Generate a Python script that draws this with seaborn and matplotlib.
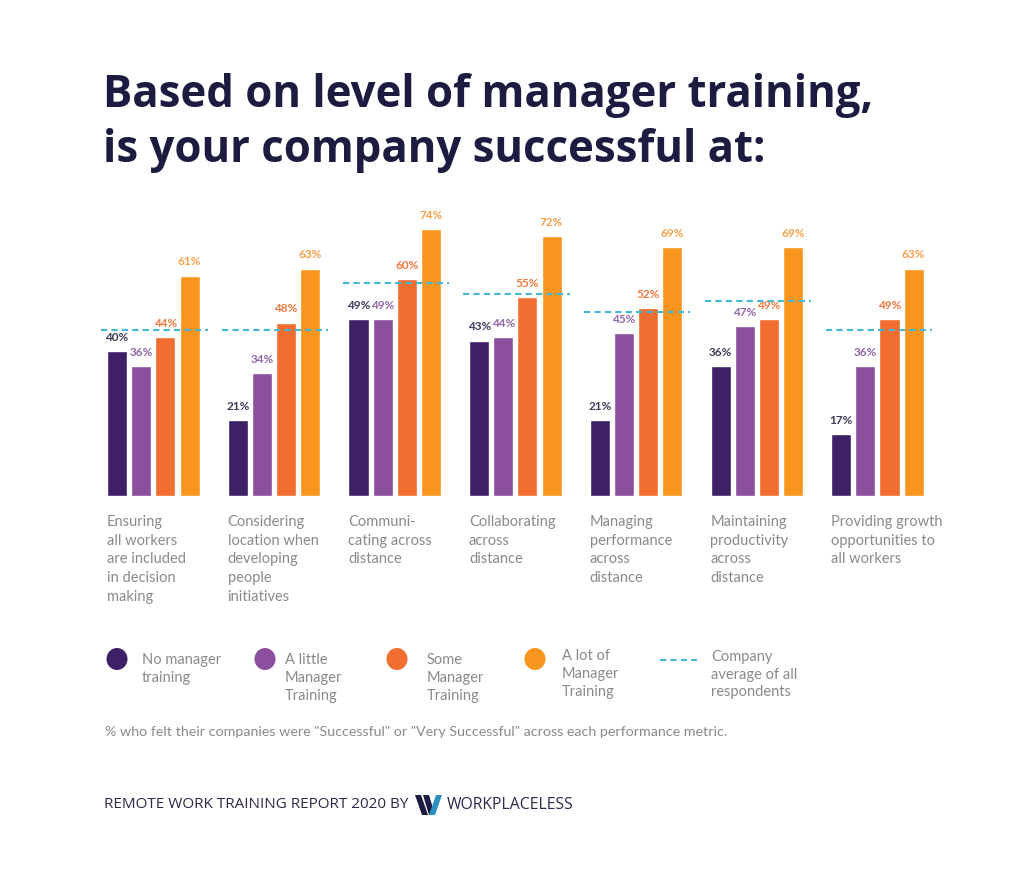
import numpy as np
import pandas as pd
import matplotlib
matplotlib.use("Agg")
import matplotlib.pyplot as plt
from matplotlib.patches import Polygon, Ellipse
import seaborn as sns

# data
metrics = [
    "Ensuring\nall workers\nare included\nin decision\nmaking",
    "Considering\nlocation when\ndeveloping\npeople\ninitiatives",
    "Communi-\ncating across\ndistance",
    "Collaborating\nacross\ndistance",
    "Managing\nperformance\nacross\ndistance",
    "Maintaining\nproductivity\nacross\ndistance",
    "Providing growth\nopportunities to\nall workers",
]
levels = ["No manager training", "A little Manager Training",
          "Some Manager Training", "A lot of Manager Training"]
no_training = [40, 21, 49, 43, 21, 36, 17]
a_little = [36, 34, 49, 44, 45, 47, 36]
some = [44, 48, 60, 55, 52, 49, 49]
a_lot = [61, 63, 74, 72, 69, 69, 63]
company_avg = [46, 46, 59, 56, 51, 54, 46]

legend_labels = ["No manager\ntraining", "A little\nManager\nTraining",
                 "Some\nManager\nTraining", "A lot of\nManager\nTraining"]

bar_colors = ["#3d2066", "#8c4f9e", "#f26d30", "#f7951e"]
label_colors = ["#3f3a58", "#9366a8", "#f0783e", "#f5a04a"]
avg_color = "#3fb8d9"
navy = "#1c1b40"
grey = "#8a8a8a"

rows = []
for lvl, vals in zip(levels, [no_training, a_little, some, a_lot]):
    for m, v in zip(metrics, vals):
        rows.append({"metric": m, "level": lvl, "value": v})
df = pd.DataFrame(rows)

sns.set_theme(style="white")
plt.rcParams["font.family"] = ["Lato", "DejaVu Sans"]

fig = plt.figure(figsize=(10.24, 8.85), dpi=100)
fig.patch.set_facecolor("white")
ax = fig.add_axes([0.0908, 0.4399, 0.825, 0.3341])

sns.barplot(data=df, x="metric", y="value", hue="level", hue_order=levels,
            palette=bar_colors, width=0.8, gap=0.17, saturation=1,
            legend=False, ax=ax)

for cont, col in zip(ax.containers, label_colors):
    ax.bar_label(cont, fmt="%d%%", color=col, fontsize=8.5, fontweight="bold",
                 padding=6)

xs = np.arange(len(metrics))
ax.hlines(company_avg, xs - 0.43, xs + 0.45, colors=avg_color, lw=1.5,
          linestyles=(0, (3, 2)), zorder=5)

ax.set_xlim(-0.5, len(metrics) - 0.5)
ax.set_ylim(0, 82)
ax.set_xticks([])
ax.set_yticks([])
ax.set_xlabel("")
ax.set_ylabel("")
sns.despine(ax=ax, left=True, bottom=True)

for i, m in enumerate(metrics):
    ax.annotate(m, xy=(i - 0.385, 0), xytext=(0, -14), textcoords="offset points",
                ha="left", va="top", fontsize=10.5, color=grey, linespacing=1.42)

# overlay in pixel coordinates for title, legend and footer
ov = fig.add_axes([0, 0, 1, 1])
ov.set_xlim(0, 1024)
ov.set_ylim(885, 0)
ov.axis("off")

ov.text(103, 123, "Based on level of manager training,\nis your company successful at:",
        fontsize=31.5, fontweight="bold", color=navy, family=["Open Sans", "DejaVu Sans"],
        ha="left", va="center", linespacing=1.3)

circle_x = [117, 265, 397, 535]
text_x = [142, 285, 427, 562]
text_y = [659, 659, 659, 655]
for cx, tx, ty, col, lab in zip(circle_x, text_x, text_y, bar_colors, legend_labels):
    ov.add_patch(Ellipse((cx, 659), 21, 22, color=col, lw=0))
    ov.text(tx, ty - 6, lab, fontsize=10.5, color=grey, ha="left", va="top",
            linespacing=1.38)
ov.plot([660, 697], [660, 660], color=avg_color, lw=1.5, ls=(0, (3, 2)))
ov.text(711, 650, "Company\naverage of all\nrespondents", fontsize=10.5, color=grey,
        ha="left", va="top", linespacing=1.33)

ov.text(105, 732, '% who felt their companies were "Successful" or "Very Successful" '
        'across each performance metric.', fontsize=10.3, color=grey,
        ha="left", va="center")

ov.text(104, 805, "REMOTE WORK TRAINING REPORT 2020 BY", fontsize=11, color="#2a2a4a",
        family=["Open Sans", "DejaVu Sans"], ha="left", va="center")
ov.add_patch(Polygon([(415, 795), (421, 795), (428, 815), (422, 815)], color=navy, lw=0))
ov.add_patch(Polygon([(423, 795), (429, 795), (435, 815), (429, 815)], color=navy, lw=0))
ov.add_patch(Polygon([(429, 815), (435, 815), (442, 795), (436, 795)], color="#2d8fc0", lw=0))
ov.text(447, 805, "WORKPLACELESS", fontsize=11.3, color="#2a2a4a",
        family=["Open Sans", "DejaVu Sans"], ha="left", va="center")

fig.savefig("out.png", dpi=100, facecolor="white")
